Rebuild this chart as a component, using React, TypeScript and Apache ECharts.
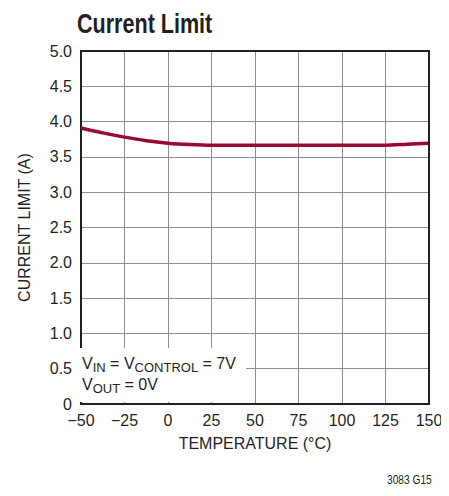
import React, { useEffect, useRef } from "react";
import * as echarts from "echarts";

const temperatures = [-50, -37.5, -25, -12.5, 0, 12.5, 25, 50, 75, 100, 125, 137.5, 150];
const currentLimit = [3.91, 3.84, 3.78, 3.73, 3.695, 3.675, 3.665, 3.665, 3.665, 3.665, 3.665, 3.68, 3.695];
const xTicks = [-50, -25, 0, 25, 50, 75, 100, 125, 150];
const yTicks = [0, 0.5, 1.0, 1.5, 2.0, 2.5, 3.0, 3.5, 4.0, 4.5, 5.0];

const FONT = "'Liberation Sans Narrow', 'Liberation Sans', Arial, sans-serif";

export default function App() {
  const ref = useRef<HTMLDivElement>(null);
  useEffect(() => {
    if (!ref.current) return;
    const chart = echarts.init(ref.current, null, { renderer: "svg" });
    const data = temperatures.map((t, i) => [t, currentLimit[i]]);
    chart.setOption({
      animation: false,
      backgroundColor: "#ffffff",
      textStyle: { fontFamily: FONT },
      grid: { left: 69, top: 43, width: 352, height: 353, containLabel: false },
      xAxis: [
        {
          type: "value",
          min: xTicks[0],
          max: xTicks[xTicks.length - 1],
          interval: 25,
          position: "bottom",
          axisLine: { show: true, onZero: false, lineStyle: { color: "#231f20", width: 2 } },
          axisTick: { show: false },
          splitLine: { show: true, lineStyle: { color: "#8c8c8c", width: 1 } },
          axisLabel: {
            color: "#231f20",
            fontSize: 16,
            fontFamily: FONT,
            margin: 8,
            formatter: (v: number) => (v < 0 ? "\u2212" + Math.abs(v) : String(v)),
          },
          name: "TEMPERATURE (\u00b0C)",
          nameLocation: "middle",
          nameGap: 31,
          nameTextStyle: { color: "#231f20", fontSize: 16, fontFamily: FONT },
        },
        {
          type: "value",
          min: xTicks[0],
          max: xTicks[xTicks.length - 1],
          interval: 25,
          position: "top",
          axisLine: { show: true, onZero: false, lineStyle: { color: "#231f20", width: 2 } },
          axisTick: { show: false },
          splitLine: { show: false },
          axisLabel: { show: false },
          z: 5,
        },
      ],
      yAxis: [
        {
          type: "value",
          min: yTicks[0],
          max: yTicks[yTicks.length - 1],
          interval: 0.5,
          position: "left",
          axisLine: { show: true, onZero: false, lineStyle: { color: "#231f20", width: 2 } },
          axisTick: { show: false },
          splitLine: { show: true, lineStyle: { color: "#8c8c8c", width: 1 } },
          axisLabel: {
            color: "#231f20",
            fontSize: 16,
            fontFamily: FONT,
            margin: 9,
            formatter: (v: number) => (v === 0 ? "0" : v.toFixed(1)),
          },
          name: "CURRENT LIMIT (A)",
          nameLocation: "middle",
          nameGap: 49,
          nameRotate: 90,
          nameTextStyle: { color: "#231f20", fontSize: 16, fontFamily: FONT },
        },
        {
          type: "value",
          min: yTicks[0],
          max: yTicks[yTicks.length - 1],
          interval: 0.5,
          position: "right",
          axisLine: { show: true, onZero: false, lineStyle: { color: "#231f20", width: 2 } },
          axisTick: { show: false },
          splitLine: { show: false },
          axisLabel: { show: false },
          z: 5,
        },
      ],
      series: [
        {
          type: "line",
          data,
          smooth: 0.3,
          showSymbol: false,
          symbol: "none",
          lineStyle: { color: "#990a33", width: 3.5 },
          z: 3,
        },
      ],
      graphic: [
        {
          type: "text",
          x: 69,
          y: 1,
          scaleX: 0.77,
          style: {
            text: "Current Limit",
            font: `bold 28px ${FONT}`,
            fill: "#231f20",
          },
        },
        {
          type: "rect",
          shape: { x: 71, y: 340, width: 167, height: 54 },
          style: { fill: "#ffffff" },
          z: 20,
        },
        {
          type: "text",
          x: 74,
          y: 345,
          z: 21,
          style: {
            text: "V{sub|IN} = V{sub|CONTROL} = 7V\nV{sub|OUT} = 0V",
            fill: "#231f20",
            font: `16px ${FONT}`,
            lineHeight: 21,
            rich: {
              sub: { fontSize: 13, fontFamily: FONT, fill: "#231f20", padding: [7, 0, 0, 0], lineHeight: 21 },
            },
          },
        },
        {
          type: "text",
          x: 379,
          y: 466,
          scaleX: 0.85,
          style: { text: "3083 G15", font: `12px ${FONT}`, fill: "#231f20" },
        },
      ],
    });
    return () => chart.dispose();
  }, []);
  return <div ref={ref} style={{ width: 449, height: 496 }} />;
}
